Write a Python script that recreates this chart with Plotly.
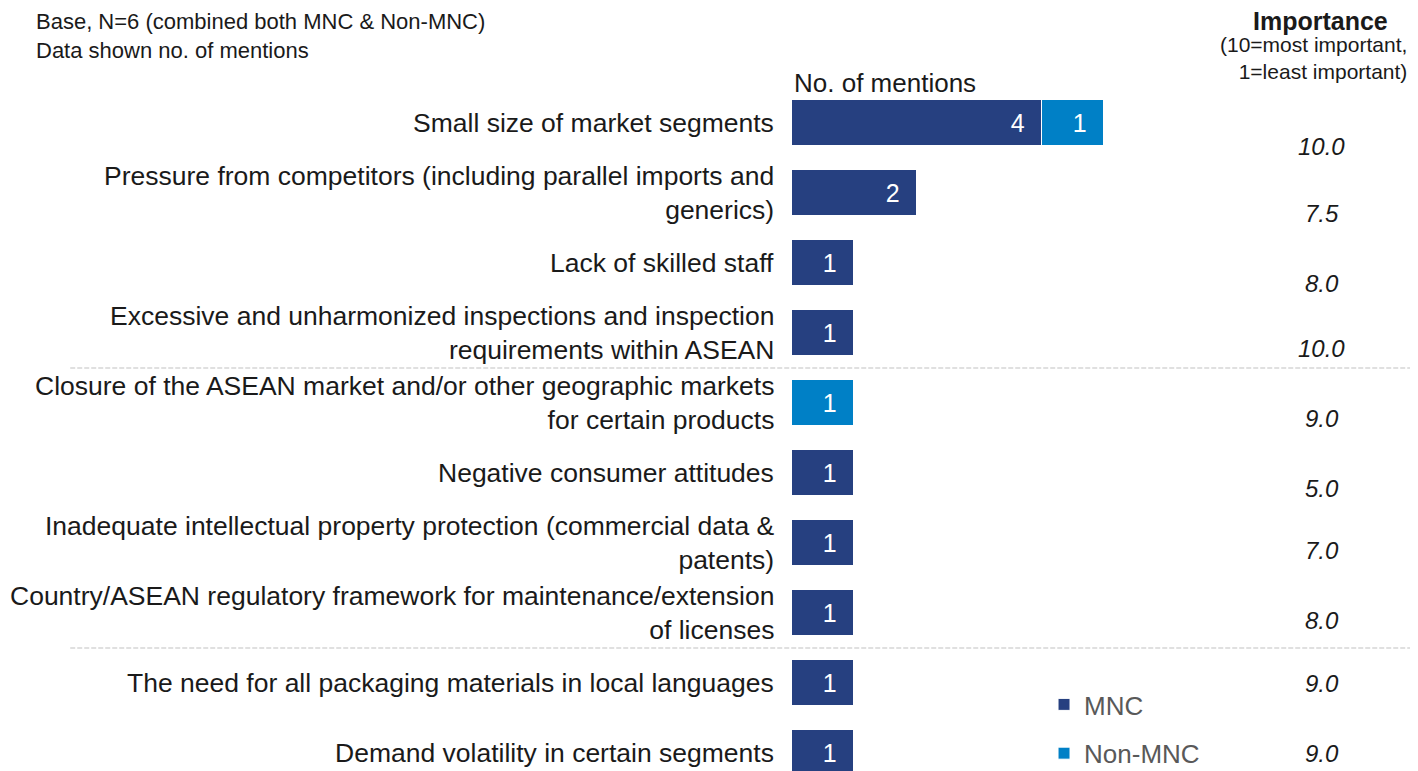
import plotly.graph_objects as go

# categories, top to bottom
categories = [
    "Small size of market segments",
    "Pressure from competitors (including parallel imports and<br>generics)",
    "Lack of skilled staff",
    "Excessive and unharmonized inspections and inspection<br>requirements within ASEAN",
    "Closure of the ASEAN market and/or other geographic markets<br>for certain products",
    "Negative consumer attitudes",
    "Inadequate intellectual property protection (commercial data &<br>patents)",
    "Country/ASEAN regulatory framework for maintenance/extension<br>of licenses",
    "The need for all packaging materials in local languages",
    "Demand volatility in certain segments",
]
mnc = [4, 2, 1, 1, 0, 1, 1, 1, 1, 1]
non_mnc = [1, 0, 0, 0, 1, 0, 0, 0, 0, 0]
importance = [10.0, 7.5, 8.0, 10.0, 9.0, 5.0, 7.0, 8.0, 9.0, 9.0]

# small vertical nudges of the importance labels (px)
imp_shift = [-23, -20, -20, -15, -15, -15, -7, -7, 0, 0]

pos = list(range(len(categories)))
FONT = "Liberation Sans, Arial, sans-serif"
C_MNC = "#264080"
C_NON = "#0080C6"
TXT = "#1a1a1a"
NB = "\u00a0\u00a0"  # keeps bar numbers off the bar end

fig = go.Figure()
fig.add_trace(go.Bar(
    y=pos, x=mnc, orientation="h", name="MNC",
    marker=dict(color=C_MNC, line=dict(color="white", width=1)),
    text=[f"{v}{NB}" if v else "" for v in mnc], textposition="inside",
    insidetextanchor="end", textfont=dict(color="white", size=25, family=FONT),
    width=0.66, legendgroup="a", hoverinfo="x+name",
))
fig.add_trace(go.Bar(
    y=pos, x=non_mnc, orientation="h", name="Non-MNC",
    marker=dict(color=C_NON, line=dict(color="white", width=1)),
    text=[f"{v}{NB}" if v else "" for v in non_mnc], textposition="inside",
    insidetextanchor="end", textfont=dict(color="white", size=25, family=FONT),
    width=0.66, legendgroup="b", hoverinfo="x+name",
))

# category labels, right aligned next to the bars
for p, cat in zip(pos, categories):
    fig.add_annotation(x=0, xref="paper", y=p, yref="y", text=cat, showarrow=False,
                       xanchor="right", yanchor="middle", align="right", xshift=-16,
                       font=dict(size=26.5, color=TXT, family=FONT))

# importance column
for p, v, s in zip(pos, importance, imp_shift):
    fig.add_annotation(x=0.8466, xref="paper", y=p, yref="y", text=f"<i>{v:.1f}</i>",
                       showarrow=False, xanchor="center", yshift=s,
                       font=dict(size=24, color=TXT, family=FONT))

# separators
for yy in [3.5, 7.5]:
    fig.add_shape(type="line", xref="paper", yref="y", x0=-1.153, x1=1.02, y0=yy, y1=yy,
                  line=dict(color="#d6d6d6", width=1.3, dash="5px,2px"))

fig.add_annotation(x=0, xref="paper", y=1.0073, yref="paper", yanchor="middle", xanchor="left",
                   text="No. of mentions", showarrow=False,
                   font=dict(size=26, color=TXT, family=FONT))
fig.add_annotation(x=-1.211, xref="paper", y=1.118, yref="paper", xanchor="left", yanchor="top",
                   align="left", showarrow=False,
                   text="Base, N=6 (combined both MNC & Non-MNC)<br>Data shown no. of mentions",
                   font=dict(size=22, color=TXT, family=FONT))
fig.add_annotation(x=0.845, xref="paper", y=1.098, yref="paper", xanchor="center", yanchor="middle",
                   showarrow=False, text="<b>Importance</b>",
                   font=dict(size=25, color=TXT, family=FONT))
fig.add_annotation(x=0.9856, xref="paper", y=1.044, yref="paper", xanchor="right", yanchor="middle",
                   align="right", showarrow=False,
                   text="(10=most important,<br>1=least important)",
                   font=dict(size=21, color=TXT, family=FONT))

fig.update_layout(
    width=1410, height=763,
    margin=dict(l=784, r=0, t=80, b=0, autoexpand=False),
    barmode="stack", bargap=0,
    plot_bgcolor="white", paper_bgcolor="white",
    font=dict(family=FONT, size=20, color=TXT),
    xaxis=dict(range=[0, 10.03], visible=False, showgrid=False),
    yaxis=dict(range=[9.257, -0.5], tickvals=pos, showticklabels=False,
               showgrid=False, zeroline=False, showline=False, ticks=""),
    legend=dict(x=0.4026, y=0.1318, xanchor="left", yanchor="top", traceorder="grouped",
                tracegroupgap=12, font=dict(size=26, color="#595959", family=FONT),
                bgcolor="rgba(0,0,0,0)"),
    showlegend=True,
)

fig.write_html("out.html")
